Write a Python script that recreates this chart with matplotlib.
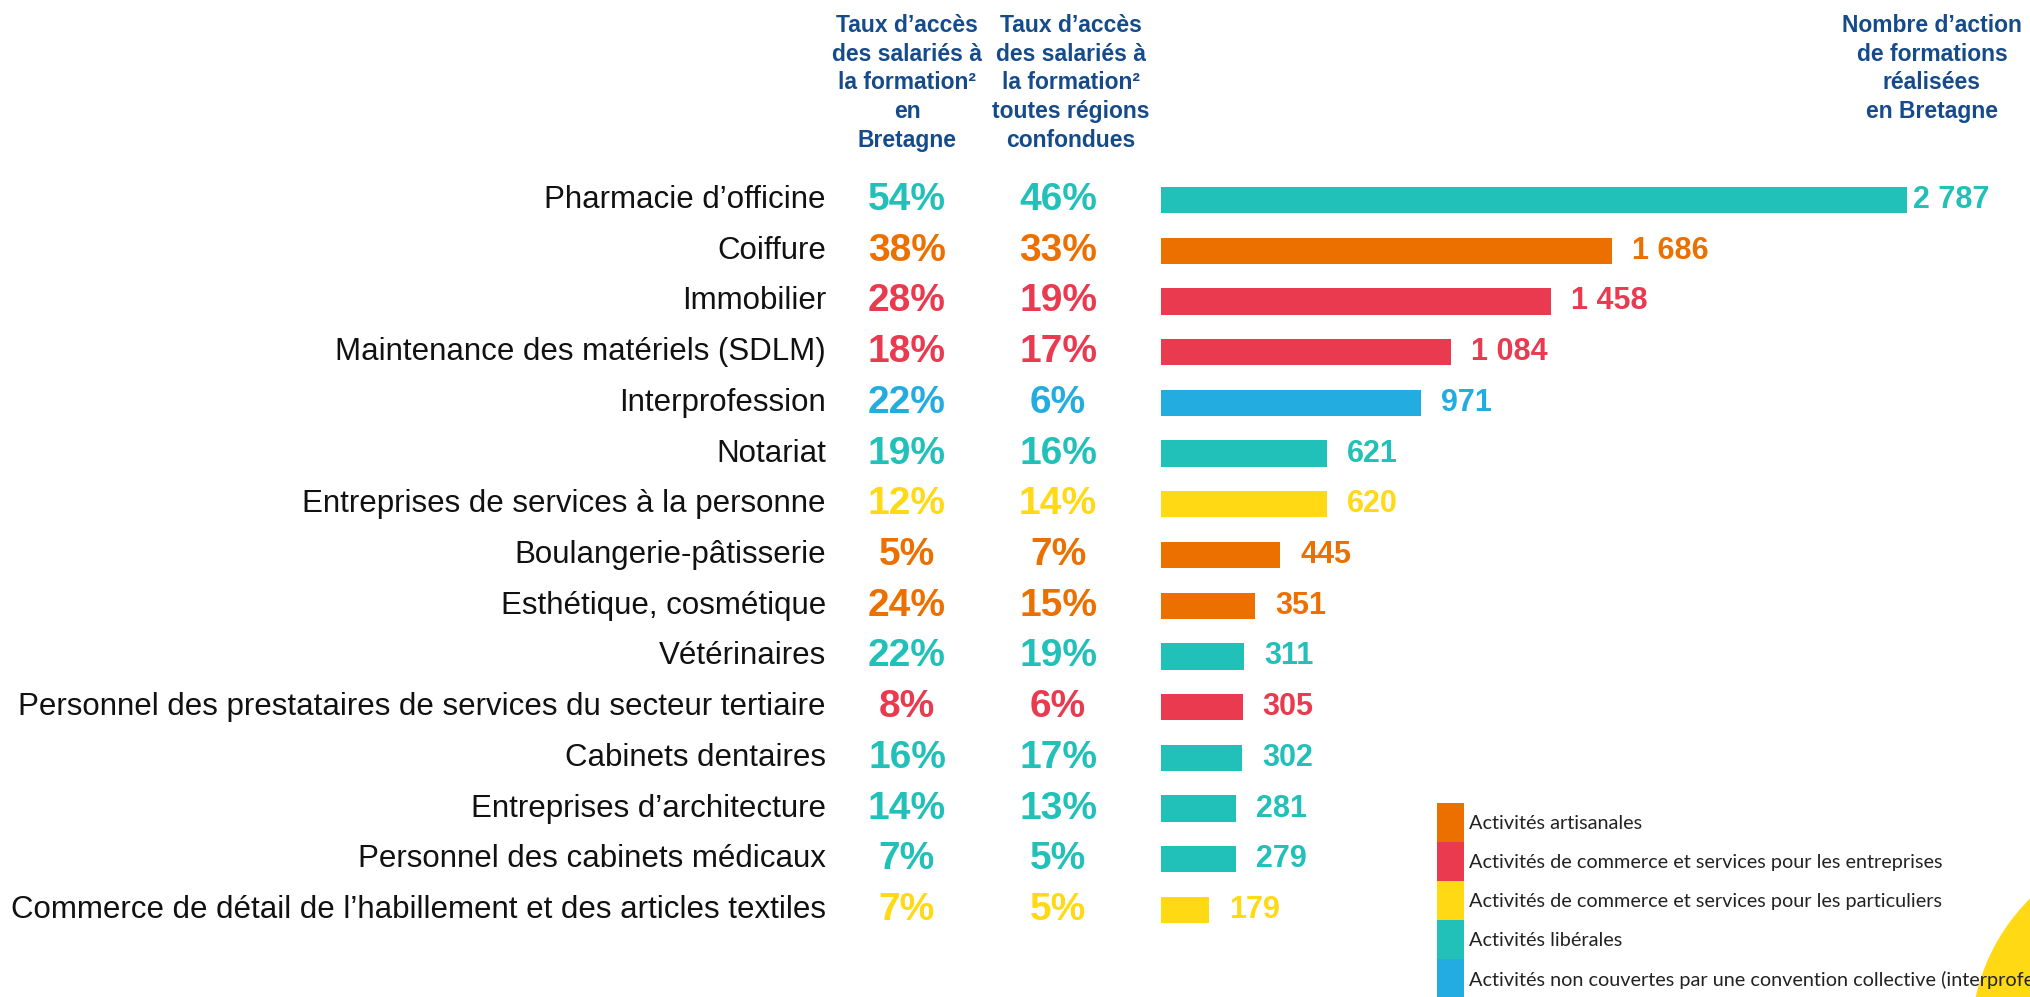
import matplotlib
matplotlib.use("Agg")
import matplotlib.pyplot as plt
from matplotlib.patches import Rectangle, Ellipse
from matplotlib.transforms import blended_transform_factory

# ---- data -----------------------------------------------------------------
categories = [
    "Pharmacie d’officine",
    "Coiffure",
    "Immobilier",
    "Maintenance des matériels (SDLM)",
    "Interprofession",
    "Notariat",
    "Entreprises de services à la personne",
    "Boulangerie-pâtisserie",
    "Esthétique, cosmétique",
    "Vétérinaires",
    "Personnel des prestataires de services du secteur tertiaire",
    "Cabinets dentaires",
    "Entreprises d’architecture",
    "Personnel des cabinets médicaux",
    "Commerce de détail de l’habillement et des articles textiles",
]
taux_bretagne = [54, 38, 28, 18, 22, 19, 12, 5, 24, 22, 8, 16, 14, 7, 7]
taux_toutes_regions = [46, 33, 19, 17, 6, 16, 14, 7, 15, 19, 6, 17, 13, 5, 5]
actions_bretagne = [2787, 1686, 1458, 1084, 971, 621, 620, 445, 351, 311, 305, 302, 281, 279, 179]
groupes = ["lib", "art", "ent", "ent", "int", "lib", "part", "art", "art", "lib",
           "ent", "lib", "lib", "lib", "part"]

legend_keys = ["art", "ent", "part", "lib", "int"]
legend_labels = [
    "Activités artisanales",
    "Activités de commerce et services pour les entreprises",
    "Activités de commerce et services pour les particuliers",
    "Activités libérales",
    "Activités non couvertes par une convention collective (interprofession)",
]
header_bretagne = ["Taux d’accès", "des salariés à", "la formation²", "en", "Bretagne"]
header_regions = ["Taux d’accès", "des salariés à", "la formation²", "toutes régions", "confondues"]
header_actions = ["Nombre d’action", "de formations", "réalisées", "en Bretagne"]

# ---- style ----------------------------------------------------------------
palette = {
    "art": "#EC7000",
    "ent": "#EA3A50",
    "part": "#FFD914",
    "lib": "#21C0B8",
    "int": "#23ACE0",
}
navy = "#154B8B"
arial = ["Liberation Sans", "DejaVu Sans"]
calibri_like = ["Lato", "DejaVu Sans"]

W, H = 2030, 997
fig = plt.figure(figsize=(W / 100, H / 100), dpi=100)
fig.patch.set_facecolor("white")


def fx(px):
    return px / W


def fy(py):
    return 1 - py / H


# bar axes: rows centred from y=200 to y=910 px, bars start at x=1161 px
n = len(categories)
row_top, row_bot = 200, 910
step = (row_bot - row_top) / (n - 1)
ax_left = 1161
ax = fig.add_axes([fx(ax_left), fy(row_bot + step / 2), fx(W - ax_left),
                   (row_bot - row_top + step) / H])
px_per_unit = (1907 - 1161) / 2787
ax.set_xlim(0, (W - ax_left) / px_per_unit)
ax.set_ylim(n - 0.5, -0.5)
ax.axis("off")

colors = [palette[g] for g in groupes]
ax.barh(range(n), actions_bretagne, height=0.52, color=colors, zorder=2)

vmax = max(actions_bretagne)
for i, (v, c) in enumerate(zip(actions_bretagne, colors)):
    gap = 6 if v == vmax else 20
    ax.annotate(f"{v:,}".replace(",", " "), xy=(v, i), xytext=(gap, 0),
                textcoords="offset pixels", va="center", ha="left",
                fontsize=22, fontweight="bold", color=c, family=arial,
                annotation_clip=False)

# category names and rate columns share the bar rows
tr = blended_transform_factory(fig.transFigure, ax.transData)
for i, name in enumerate(categories):
    c = colors[i]
    fig.text(fx(826), i, name, transform=tr, ha="right", va="center",
             fontsize=22.5, color="#111111", family=arial)
    fig.text(fx(907), i, f"{taux_bretagne[i]}%", transform=tr, ha="center",
             va="center", fontsize=28, fontweight="bold", color=c, family=arial)
    fig.text(fx(1058), i, f"{taux_toutes_regions[i]}%", transform=tr, ha="center",
             va="center", fontsize=28, fontweight="bold", color=c, family=arial)

# column headers
baselines = [32, 61, 89, 118, 147]
for lines, cx in ((header_bretagne, 907), (header_regions, 1071), (header_actions, 1932)):
    for line, by in zip(lines, baselines):
        fig.text(fx(cx), fy(by), line, ha="center", va="baseline",
                 fontsize=16.5, fontweight="bold", color=navy, family=arial)

# decorative disc in the lower right corner
r = 199
fig.patches.append(Ellipse((fx(2170), fy(1040)), 2 * r / W, 2 * r / H,
                           transform=fig.transFigure, facecolor="#FFD914",
                           edgecolor="none", zorder=1))

# legend
leg_top, leg_h = 803, 39
for k, (key, label) in enumerate(zip(legend_keys, legend_labels)):
    top = leg_top + k * leg_h
    fig.patches.append(Rectangle((fx(1437), fy(top + leg_h)), fx(1464) - fx(1437),
                                 leg_h / H, transform=fig.transFigure,
                                 facecolor=palette[key], edgecolor="none", zorder=2))
    fig.text(fx(1469), fy(top + leg_h / 2 + 1), label, ha="left", va="center",
             fontsize=14.3, color="#222222", family=calibri_like, zorder=3)

fig.savefig("out.png", dpi=100)
